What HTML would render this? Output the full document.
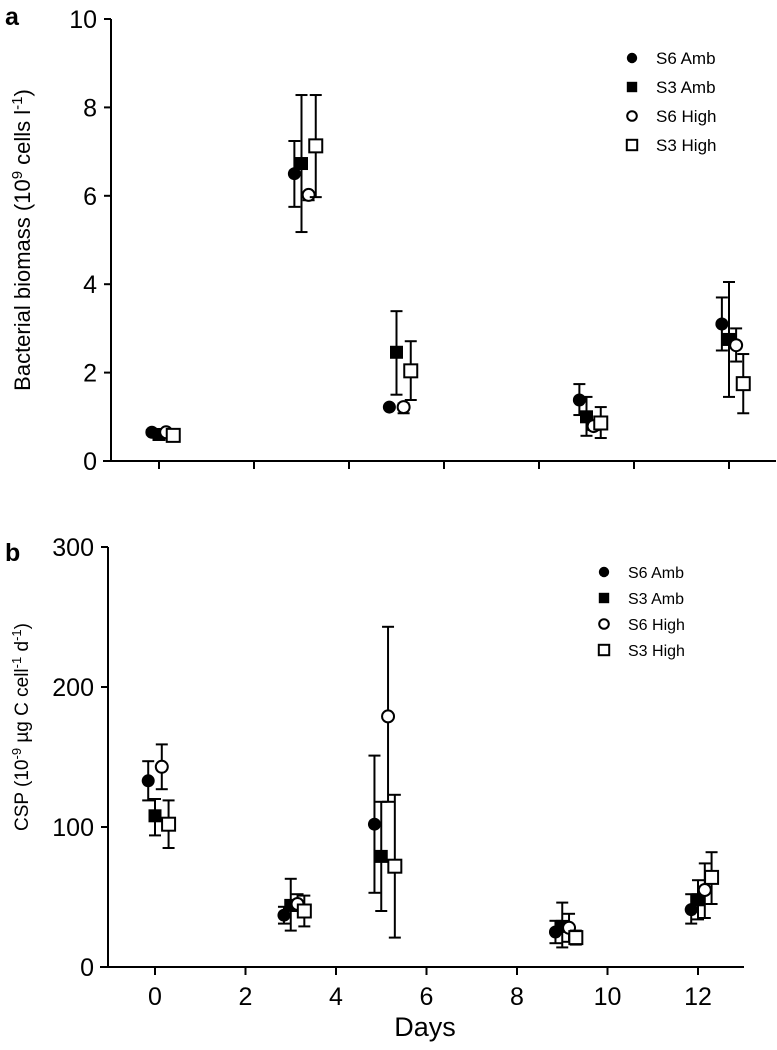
<!DOCTYPE html>
<html><head><meta charset="utf-8"><style>
html,body{margin:0;padding:0;background:#fff;}
svg{display:block;font-family:"Liberation Sans",Arial,sans-serif;}
</style></head><body>
<svg id="chart" width="777" height="1050" viewBox="0 0 777 1050" xmlns="http://www.w3.org/2000/svg">
  <text x="5" y="25" font-size="25" font-weight="bold">a</text>
  <text x="5" y="561" font-size="25" font-weight="bold">b</text>
  <text transform="translate(30,240) rotate(-90)" text-anchor="middle" font-size="22">Bacterial biomass (10<tspan dy="-8" font-size="15">9</tspan><tspan dy="8"> cells l</tspan><tspan dy="-8" font-size="15">-1</tspan><tspan dy="8">)</tspan></text>
  <text transform="translate(28,727) rotate(-90)" text-anchor="middle" font-size="19">CSP (10<tspan dy="-7" font-size="13">-9</tspan><tspan dy="7"> µg C cell</tspan><tspan dy="-7" font-size="13">-1</tspan><tspan dy="7"> d</tspan><tspan dy="-7" font-size="13">-1</tspan><tspan dy="7">)</tspan></text>
  <text x="425" y="1036" text-anchor="middle" font-size="27">Days</text>
</svg>
<script>
// ----- data -----
const days = [0, 3, 5, 9, 12];
const seriesNames = ["S6 Amb", "S3 Amb", "S6 High", "S3 High"];
const seriesOffsets = [-0.15, 0, 0.15, 0.3];
// Panel a: bacterial biomass
const bioS6Amb = [0.65, 6.5, 1.22, 1.38, 3.1];
const bioS6AmbLo = [0.6, 5.75, 1.2, 1.04, 2.5];
const bioS6AmbHi = [0.7, 7.24, 1.25, 1.74, 3.7];
const bioS3Amb = [0.6, 6.73, 2.46, 1.0, 2.75];
const bioS3AmbLo = [0.55, 5.18, 1.5, 0.57, 1.45];
const bioS3AmbHi = [0.65, 8.28, 3.39, 1.45, 4.05];
const bioS6High = [0.65, 6.02, 1.22, 0.79, 2.62];
const bioS6HighLo = [0.6, 5.9, 1.08, 0.7, 2.25];
const bioS6HighHi = [0.7, 6.05, 1.3, 0.9, 3.0];
const bioS3High = [0.58, 7.13, 2.04, 0.86, 1.75];
const bioS3HighLo = [0.55, 5.97, 1.38, 0.52, 1.08];
const bioS3HighHi = [0.62, 8.28, 2.71, 1.22, 2.42];
const bioTicks = [0, 2, 4, 6, 8, 10];
// Panel b: CSP
const cspS6Amb = [133, 37, 102, 25, 41];
const cspS6AmbLo = [119, 31, 53, 17, 31];
const cspS6AmbHi = [147, 43, 151, 33, 52];
const cspS3Amb = [108, 44, 79, 29, 48];
const cspS3AmbLo = [94, 26, 40, 14, 34];
const cspS3AmbHi = [120, 63, 118, 46, 62];
const cspS6High = [143, 45, 179, 28, 55];
const cspS6HighLo = [127, 40, 118, 18, 35];
const cspS6HighHi = [159, 52, 243, 38, 74];
const cspS3High = [102, 40, 72, 21, 64];
const cspS3HighLo = [85, 29, 21, 16, 45];
const cspS3HighHi = [119, 51, 123, 26, 82];
const cspTicks = [0, 100, 200, 300];
const dayTicks = [0, 2, 4, 6, 8, 10, 12];

const NS = "http://www.w3.org/2000/svg";
const svg = document.getElementById("chart");
function mk(tag, attrs, parent) {
  const e = document.createElementNS(NS, tag);
  for (const k in attrs) e.setAttribute(k, attrs[k]);
  (parent || svg).appendChild(e);
  return e;
}

function drawPanel(cfg) {
  const g = mk("g", {});
  
  
  const xs = d => cfg.x0 + cfg.xk * d;
  const ys = v => cfg.y0 - (cfg.y0 - cfg.y1) * (v - cfg.vmin) / (cfg.vmax - cfg.vmin);
  const ya = mk("line", {x1: cfg.axL, y1: ys(cfg.vmax), x2: cfg.axL, y2: ys(cfg.vmin), stroke: "#000", "stroke-width": 2}, g);
  
  
  const xa = mk("line", {x1: cfg.axL - 8, y1: cfg.y0, x2: cfg.axR, y2: cfg.y0, stroke: "#000", "stroke-width": 2}, g);
  
  
  cfg.yticks.forEach(t => {
    const y = ys(t);
    mk("line", {x1: cfg.axL - 7, y1: y, x2: cfg.axL, y2: y, stroke: "#000", "stroke-width": 2}, g);
    const tx = mk("text", {x: cfg.axL - 14, y: y + 9, "text-anchor": "end", "font-size": 25}, g);
    tx.textContent = t;
    
    
  });
  dayTicks.forEach(t => {
    const x = xs(t);
    mk("line", {x1: x, y1: cfg.y0, x2: x, y2: cfg.y0 + 8, stroke: "#000", "stroke-width": 2}, g);
    if (cfg.xlabels) {
      const tx = mk("text", {x: x, y: cfg.y0 + 38, "text-anchor": "middle", "font-size": 25}, g);
      tx.textContent = t;
      
      
    }
  });
  cfg.series.forEach((s, si) => {
    const sg = mk("g", {}, g);
    
    
    days.forEach((d, i) => {
      const x = xs(d + seriesOffsets[si]);
      const yl = ys(s.lo[i]), yh = ys(s.hi[i]), y = ys(s.v[i]);
      mk("line", {x1: x, y1: yh, x2: x, y2: yl, stroke: "#000", "stroke-width": 2}, sg);
      mk("line", {x1: x - 6, y1: yh, x2: x + 6, y2: yh, stroke: "#000", "stroke-width": 2}, sg);
      mk("line", {x1: x - 6, y1: yl, x2: x + 6, y2: yl, stroke: "#000", "stroke-width": 2}, sg);
      drawMarker(sg, si, x, y, 1);
    });
  });
  seriesNames.forEach((n, i) => {
    const y = cfg.legY + i * cfg.legDy;
    const lg = mk("g", {}, g);
    
    
    drawMarker(lg, i, cfg.legX, y, 0.8);
    const tx = mk("text", {x: cfg.legX + 24, y: y + 6, "font-size": cfg.legFont}, lg);
    tx.textContent = n;
  });
}
function drawMarker(parent, si, x, y, sc) {
  let m;
  if (si === 0) m = mk("circle", {cx: x, cy: y, r: 6.5 * sc, fill: "#000"}, parent);
  else if (si === 1) m = mk("rect", {x: x - 6.5 * sc, y: y - 6.5 * sc, width: 13 * sc, height: 13 * sc, fill: "#000"}, parent);
  else if (si === 2) m = mk("circle", {cx: x, cy: y, r: 6 * sc, fill: "#fff", stroke: "#000", "stroke-width": 2}, parent);
  else m = mk("rect", {x: x - 6.5 * sc, y: y - 6.5 * sc, width: 13 * sc, height: 13 * sc, fill: "#fff", stroke: "#000", "stroke-width": 2}, parent);
  
  
}

drawPanel({
  name: "panel-a", x0: 159, xk: 47.5, y0: 461, y1: 19, vmin: 0, vmax: 10,
  axL: 111, axR: 776, yticks: bioTicks, xlabels: false,
  legX: 632, legY: 58, legDy: 29, legFont: 17,
  series: [
    {v: bioS6Amb, lo: bioS6AmbLo, hi: bioS6AmbHi},
    {v: bioS3Amb, lo: bioS3AmbLo, hi: bioS3AmbHi},
    {v: bioS6High, lo: bioS6HighLo, hi: bioS6HighHi},
    {v: bioS3High, lo: bioS3HighLo, hi: bioS3HighHi}
  ]
});
drawPanel({
  name: "panel-b", x0: 155, xk: 45.25, y0: 967, y1: 547, vmin: 0, vmax: 300,
  axL: 108, axR: 744, yticks: cspTicks, xlabels: true,
  legX: 604, legY: 572, legDy: 26, legFont: 16,
  series: [
    {v: cspS6Amb, lo: cspS6AmbLo, hi: cspS6AmbHi},
    {v: cspS3Amb, lo: cspS3AmbLo, hi: cspS3AmbHi},
    {v: cspS6High, lo: cspS6HighLo, hi: cspS6HighHi},
    {v: cspS3High, lo: cspS3HighLo, hi: cspS3HighHi}
  ]
});
</script>
</body></html>
